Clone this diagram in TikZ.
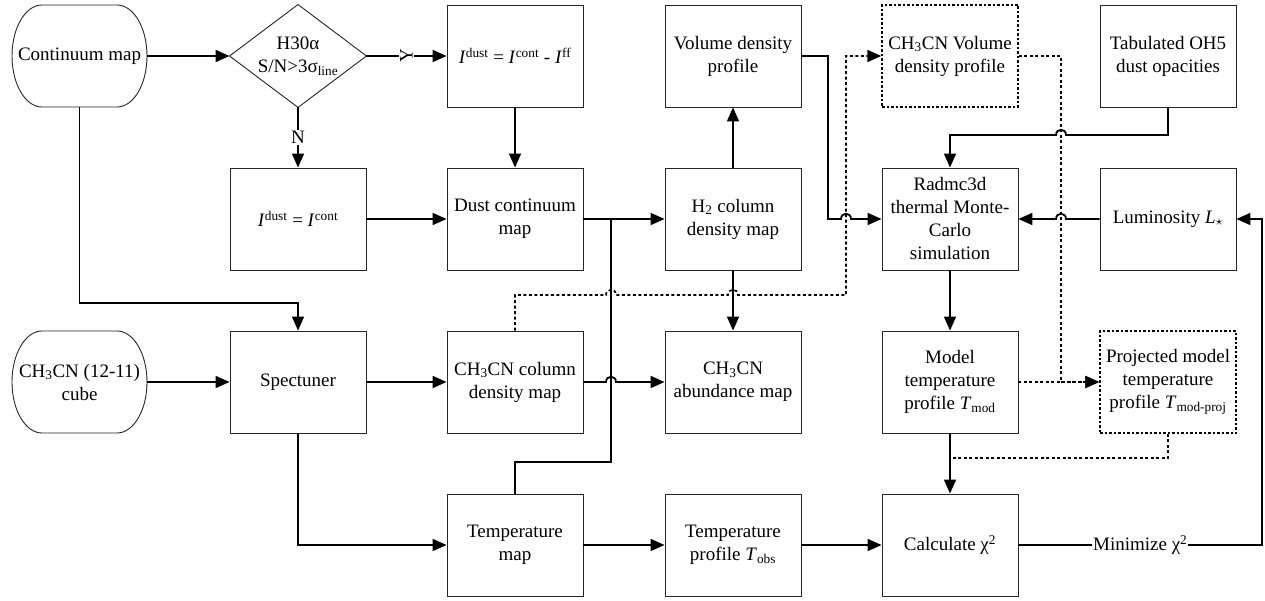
\documentclass[tikz,border=0pt]{standalone}
\usepackage{fontspec}
\setmainfont{Liberation Serif}
\usetikzlibrary{arrows.meta}
\begin{document}
\begin{tikzpicture}[x=1pt,y=-1pt,
  every node/.style={font=\fontsize{19}{23}\selectfont},
  box/.style={draw=black!85, line width=0.9pt, rectangle, minimum width=136pt, minimum height=102pt, inner sep=2pt, align=center},
  dbox/.style={box, draw=black, dash pattern=on 2.5pt off 2pt, line width=1.5pt},
  tbox/.style={box, draw=none},
  wire/.style={line width=1.8pt},
  conn/.style={wire, -{Triangle[length=14pt,width=12pt]}},
  dwire/.style={line width=1.7pt, dash pattern=on 3pt off 2.5pt},
  dconn/.style={dwire, -{Triangle[length=14pt,width=12pt]}},
  lab/.style={fill=white, inner sep=1pt}
]
\useasboundingbox (0,0) rectangle (1265,601);

% terminator shapes
\draw[draw=black!85, line width=0.9pt] (42,5) -- (117,5) .. controls (133.6,5) and (147,27.8) .. (147,56) .. controls (147,84.2) and (133.6,107) .. (117,107) -- (42,107) .. controls (25.4,107) and (12,84.2) .. (12,56) .. controls (12,27.8) and (25.4,5) .. (42,5) -- cycle;
\draw[draw=black!85, line width=0.9pt] (42,331) -- (117,331) .. controls (133.6,331) and (147,353.8) .. (147,382) .. controls (147,410.2) and (133.6,433) .. (117,433) -- (42,433) .. controls (25.4,433) and (12,410.2) .. (12,382) .. controls (12,353.8) and (25.4,331) .. (42,331) -- cycle;
\node[tbox, minimum width=135pt] (cont) at (79.5,56) {Continuum map};
\node[tbox, minimum width=135pt] (cube) at (79.5,382) {CH\textsubscript{3}CN (12-11)\\cube};

% diamond
\node[tbox] (dia) at (298,56) {H30α\\S/N>3σ\textsubscript{line}};
\draw[draw=black!85, line width=0.9pt] (dia.north) -- (dia.east) -- (dia.south) -- (dia.west) -- cycle;

% row 1
\node[box] (idust1) at (515,56) {\textit{I}\textsuperscript{dust} = \textit{I}\textsuperscript{cont} - \textit{I}\textsuperscript{ff}};
\node[box] (vol) at (733,56) {Volume density\\profile};
\node[dbox] (ch3vol) at (950,56) {CH\textsubscript{3}CN Volume\\density profile};
\node[box] (tab) at (1168,56) {Tabulated OH5\\dust opacities};

% row 2
\node[box] (idust2) at (298,219) {\textit{I}\textsuperscript{dust} = \textit{I}\textsuperscript{cont}};
\node[box] (dustc) at (515,219) {Dust continuum\\map};
\node[box] (h2) at (733,219) {H\textsubscript{2} column\\density map};
\node[box] (radmc) at (950,219) {Radmc3d\\thermal Monte-\\Carlo\\simulation};
\node[box] (lum) at (1168,219) {Luminosity \textit{L}\textsubscript{$\star$}};

% row 3
\node[box] (spect) at (298,382) {Spectuner};
\node[box] (ch3col) at (515,382) {CH\textsubscript{3}CN column\\density map};
\node[box] (abund) at (733,382) {CH\textsubscript{3}CN\\abundance map};
\node[box] (model) at (950,382) {Model\\temperature\\profile \textit{T}\textsubscript{mod}};
\node[dbox] (proj) at (1168,382) {Projected model\\temperature\\profile \textit{T}\textsubscript{mod-proj}};

% row 4
\node[box] (tmap) at (515,545) {Temperature\\map};
\node[box] (tprof) at (733,545) {Temperature\\profile \textit{T}\textsubscript{obs}};
\node[box] (calc) at (950,545) {Calculate χ\textsuperscript{2}};

% solid connectors
\draw[conn] (cont.east) -- (dia.west);
\draw[conn] (dia.east) -- node[lab, rotate=90] {Y} (idust1.west);
\draw[conn] (dia.south) -- node[lab] {N} (idust2.north);
\draw[conn] (idust1.south) -- (dustc.north);
\draw[conn] (idust2.east) -- (dustc.west);
\draw[conn] (dustc.east) -- (h2.west);
\draw[conn] (h2.north) -- (vol.south);
\draw[conn] (h2.south) -- (abund.north);
\draw[conn] (vol.east) -- (828,56) -- (828,219) -- (841,219) .. controls (841,212) and (851,212) .. (851,219) -- (radmc.west);
\draw[conn] (tab.south) -- (1168,135) -- (1066,135) .. controls (1066,128) and (1056,128) .. (1056,135) -- (950,135) -- (radmc.north);
\draw[conn] (lum.west) -- (1066,219) .. controls (1066,212) and (1056,212) .. (1056,219) -- (radmc.east);
\draw[conn] (radmc.south) -- (model.north);
\draw[conn] (cont.south) -- (79.5,303) -| (spect.north);
\draw[conn] (cube.east) -- (spect.west);
\draw[conn] (spect.east) -- (ch3col.west);
\draw[conn] (ch3col.east) -- (606,382) .. controls (606,375) and (616,375) .. (616,382) -- (abund.west);
\draw[conn] (spect.south) |- (tmap.west);
\coordinate (join) at (611,219);
\draw[wire] (tmap.north) -- (515,462) -| (join);
\draw[conn] (tmap.east) -- (tprof.west);
\draw[conn] (tprof.east) -- (calc.west);
\draw[conn] (model.south) -- (calc.north);
\draw[conn] (calc.east) -- node[lab] {Minimize χ\textsuperscript{2}} (1262,545) -- (1262,219) -- (lum.east);

% dotted connectors
\draw[dconn] (ch3col.north) -- (515,295) -- (606,295) .. controls (606,288) and (616,288) .. (616,295) -- (728,295) .. controls (728,288) and (738,288) .. (738,295) -- (846,295) -- (846,56) -- (ch3vol.west);
\draw[dconn] (ch3vol.east) -- (1061,56) -- (1061,382) -- (proj.west);
\draw[dconn] (model.east) -- (proj.west);
\coordinate (join2) at (950,458);
\draw[dwire] (proj.south) -- (1168,458) -- (join2);
\end{tikzpicture}
\end{document}
